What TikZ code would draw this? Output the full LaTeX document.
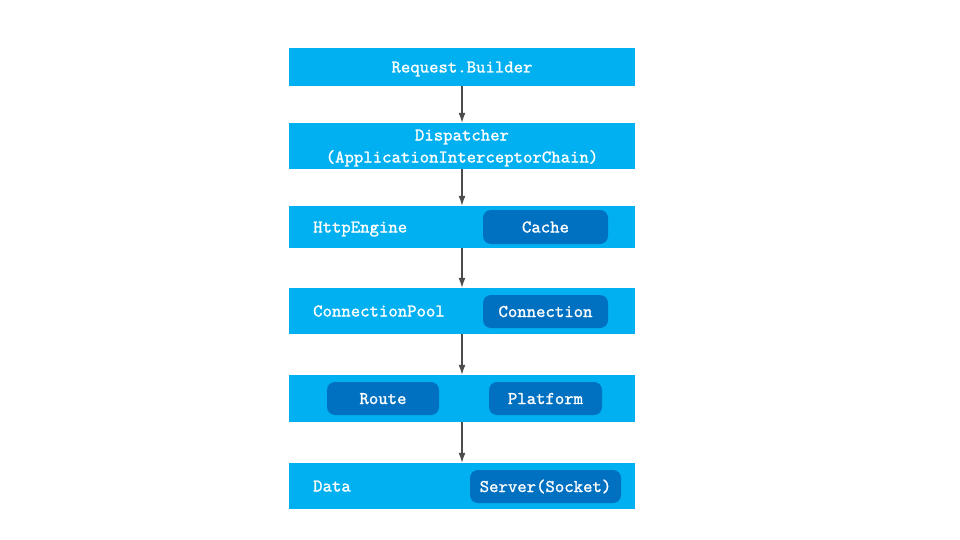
\documentclass[tikz,border=0pt]{standalone}
\usepackage{fontspec}
\newfontfamily\boxfont{lmmono10-regular.otf}[FakeBold=1.2]
\usetikzlibrary{positioning,arrows.meta}

\definecolor{barblue}{HTML}{00B0F0}
\definecolor{partblue}{HTML}{0070C0}

\tikzset{
  layer/.style={fill=barblue, minimum width=346pt, inner sep=0pt, text=white, align=center},
  part/.style={fill=partblue, rounded corners=8pt, inner sep=0pt, text=white, text height=12pt, text depth=1pt},
  tag/.style={anchor=west, inner sep=0pt, text=white, text height=12pt, text depth=1pt},
  flow/.style={-{Latex[length=10pt,width=7pt]}, line width=1.3pt, black!70},
}

\begin{document}
\begin{tikzpicture}[x=1pt,y=-1pt,font=\boxfont\fontsize{17.9}{22}\selectfont]
        \useasboundingbox[fill=white] (0,0) rectangle (960,540);

        % layers
        \node[layer, minimum height=38pt, text height=12pt, text depth=1pt] (req) at (462,67) {Request.Builder};
        \node[layer, minimum height=46pt] (disp) at (462,146)   {\rule{0pt}{15pt}Dispatcher\\(ApplicationInterceptorChain)};
        \node[layer, minimum height=42pt] (http) at (462,227)   {};
        \node[layer, minimum height=46pt] (pool) at (462,311)   {};
        \node[layer, minimum height=47pt] (net)  at (462,398.5) {};
        \node[layer, minimum height=46pt] (data) at (462,486)   {};

        % labels and parts
        \node[tag] (httplbl) at (313,227) {HttpEngine};
        \node[part, minimum width=125pt, minimum height=34pt] (cache) at (545.5,227) {Cache};

        \node[tag] (poollbl) at (313,311) {ConnectionPool};
        \node[part, minimum width=125pt, minimum height=33pt] (conn) at (545.5,311.5) {Connection};

        \node[part, minimum width=112pt, minimum height=33pt] (route) at (383,398.5) {Route};
        \node[part, minimum width=113pt, minimum height=33pt] (platform) at (545.5,398.5) {Platform};

        \node[tag] (datalbl) at (313,486) {Data};
        \node[part, minimum width=151pt, minimum height=33pt] (server) at (545.5,486.5) {Server(Socket)};

        % flow
        \draw[flow] (req) -- (disp);
        \draw[flow] (disp) -- (http);
        \draw[flow] (http) -- (pool);
        \draw[flow] (pool) -- (net);
        \draw[flow] (net) -- (data);
\end{tikzpicture}
\end{document}
